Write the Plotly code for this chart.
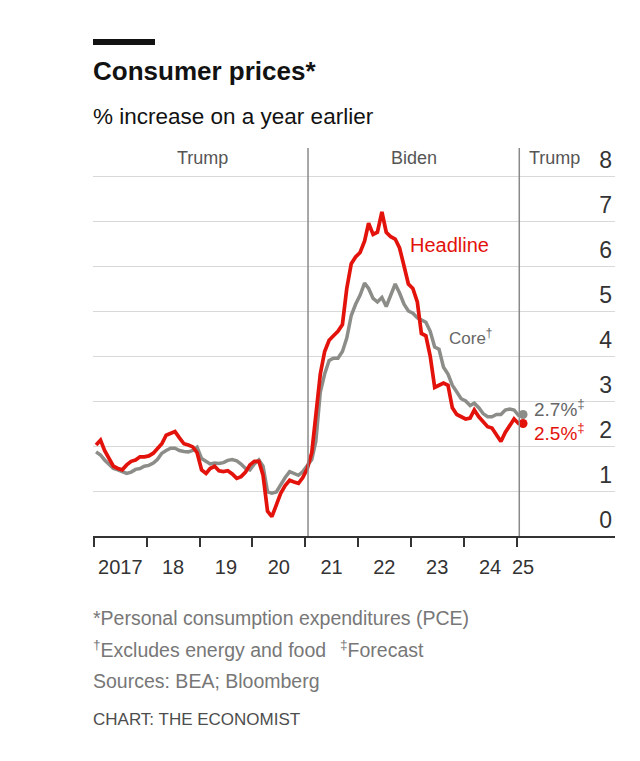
import plotly.graph_objects as go
import pandas as pd

# ---------------- data ----------------
headline = [
    2.02, 2.13, 1.90, 1.72, 1.55, 1.50, 1.47, 1.58, 1.66, 1.69, 1.76, 1.76,   # 2017
    1.78, 1.84, 1.93, 2.05, 2.24, 2.28, 2.32, 2.18, 2.05, 2.02, 1.98, 1.85,   # 2018
    1.47, 1.39, 1.50, 1.55, 1.45, 1.43, 1.45, 1.38, 1.28, 1.32, 1.42, 1.58,   # 2019
    1.66, 1.66, 1.35, 0.55, 0.43, 0.69, 0.95, 1.12, 1.24, 1.20, 1.17, 1.30,   # 2020
    1.50, 1.85, 2.70, 3.60, 4.10, 4.35, 4.45, 4.55, 4.70, 5.50, 6.05, 6.20,   # 2021
    6.30, 6.55, 6.95, 6.70, 6.75, 7.20, 6.75, 6.65, 6.60, 6.40, 6.00, 5.60,   # 2022
    5.50, 5.20, 4.50, 4.45, 4.00, 3.30, 3.35, 3.40, 3.35, 2.85, 2.70, 2.65,   # 2023
    2.60, 2.62, 2.80, 2.65, 2.55, 2.43, 2.40, 2.25, 2.10, 2.30, 2.45, 2.60,   # 2024
    2.50,                                                                      # 2025 Jan
]
core = [
    1.87, 1.80, 1.69, 1.60, 1.50, 1.47, 1.42, 1.39, 1.42, 1.48, 1.50, 1.55,
    1.57, 1.62, 1.70, 1.84, 1.90, 1.95, 1.95, 1.90, 1.88, 1.87, 1.90, 1.97,
    1.72, 1.65, 1.60, 1.62, 1.61, 1.63, 1.68, 1.70, 1.67, 1.60, 1.50, 1.47,
    1.60, 1.69, 1.55, 0.98, 0.95, 0.98, 1.15, 1.30, 1.43, 1.38, 1.35, 1.43,
    1.55, 1.70, 2.10, 3.20, 3.60, 3.90, 3.95, 3.95, 4.10, 4.40, 4.90, 5.15,
    5.35, 5.62, 5.50, 5.28, 5.20, 5.30, 5.10, 5.35, 5.60, 5.40, 5.15, 5.00,
    4.95, 4.85, 4.80, 4.75, 4.55, 4.20, 4.15, 3.75, 3.60, 3.35, 3.20, 3.05,
    3.00, 2.90, 2.95, 2.85, 2.72, 2.65, 2.65, 2.70, 2.70, 2.80, 2.82, 2.80,
    2.68,
]
months = list(pd.date_range("2017-01-01", "2025-01-01", freq="MS") + pd.Timedelta(days=14))

forecast_date = pd.Timestamp("2025-02-15")
headline_fc = 2.5
core_fc = 2.7

year_starts = [f"{y}-01-01" for y in range(2017, 2026)]
year_label_pos = [f"{y}-07-02" for y in range(2017, 2025)] + ["2025-02-15"]
year_labels = ["2017", "18", "19", "20", "21", "22", "23", "24", "25"]

y_ticks = [0, 1, 2, 3, 4, 5, 6, 7, 8]

era_lines = ["2021-01-20", "2025-01-20"]
era_names = ["Trump", "Biden", "Trump"]
era_label_x = ["2019-01-19", "2023-01-20", "2025-01-20"]

RED = "#E3120B"
GREY = "#8C8C88"
REG = "Liberation Sans, Arial, sans-serif"

# ---------------- figure ----------------
fig = go.Figure()
fig.add_trace(go.Scatter(x=months + [forecast_date], y=core + [core_fc], mode="lines",
                         line=dict(color=GREY, width=3.5), hoverinfo="skip"))
fig.add_trace(go.Scatter(x=months + [forecast_date], y=headline + [headline_fc], mode="lines",
                         line=dict(color=RED, width=3.7), hoverinfo="skip"))
fig.add_trace(go.Scatter(x=[forecast_date], y=[core_fc], mode="markers",
                         marker=dict(color=GREY, size=9), hoverinfo="skip"))
fig.add_trace(go.Scatter(x=[forecast_date], y=[headline_fc], mode="markers",
                         marker=dict(color=RED, size=9), hoverinfo="skip"))

W, H = 640, 761
L, R, T, B = 93, 25, 140, 225
pw, ph = W - L - R, H - T - B


def px(xpix):
    return (xpix - L) / pw


def py(ypix):
    return (H - B - ypix) / ph


fig.update_layout(
    width=W, height=H,
    margin=dict(l=L, r=R, t=T, b=B, pad=0),
    paper_bgcolor="white", plot_bgcolor="white",
    showlegend=False,
    xaxis=dict(
        type="date",
        range=["2016-12-25", "2026-11-13"],
        tickmode="array", tickvals=year_label_pos, ticktext=year_labels,
        ticks="outside", ticklen=12, tickcolor="rgba(0,0,0,0)",
        tickfont=dict(family=REG, size=20, color="#333333"),
        minor=dict(tickmode="array", tickvals=year_starts, ticks="outside",
                   ticklen=9, tickwidth=1.5, tickcolor="#333333", showgrid=False),
        showline=True, linecolor="#333333", linewidth=1.5,
        showgrid=False, zeroline=False,
    ),
    yaxis=dict(
        range=[0, (H - B - T) / 45.0],
        side="right",
        tickmode="array", tickvals=y_ticks,
        ticklabelposition="inside top",
        ticks="",
        tickfont=dict(family=REG, size=23, color="#333333"),
        showgrid=True, gridcolor="#D9D9D9", gridwidth=1.2,
        zeroline=False, showline=False,
    ),
)

shapes = []
for d in era_lines:
    shapes.append(dict(type="line", xref="x", yref="y", x0=d, x1=d, y0=0, y1=8.62,
                       line=dict(color="#8A8A8A", width=1.5)))
# black top bar
shapes.append(dict(type="rect", xref="paper", yref="paper",
                   x0=px(93), x1=px(155), y0=py(45), y1=py(39),
                   fillcolor="#121212", line=dict(width=0)))
fig.update_layout(shapes=shapes)

ann = []
# era labels
for i, (name, xd) in enumerate(zip(era_names, era_label_x)):
    ann.append(dict(x=xd, y=8.4, xref="x", yref="y", text=name, showarrow=False,
                    xanchor="center" if i < 2 else "left", xshift=0 if i < 2 else 8,
                    yanchor="middle",
                    font=dict(family=REG, size=18, color="#555555")))
# series labels
ann.append(dict(x="2022-12-15", y=6.47, xref="x", yref="y", text="Headline", showarrow=False,
                xanchor="left", yanchor="middle", font=dict(family=REG, size=20, color=RED)))
ann.append(dict(x="2023-09-05", y=4.43, xref="x", yref="y", text="Core<sup>†</sup>", showarrow=False,
                xanchor="left", yanchor="middle", font=dict(family=REG, size=17, color="#666666")))
ann.append(dict(x=forecast_date, y=2.84, xref="x", yref="y", text="2.7%<sup>‡</sup>", showarrow=False,
                xanchor="left", yanchor="middle", xshift=9, font=dict(family=REG, size=19, color="#666666")))
ann.append(dict(x=forecast_date, y=2.32, xref="x", yref="y", text="2.5%<sup>‡</sup>", showarrow=False,
                xanchor="left", yanchor="middle", xshift=9, font=dict(family=REG, size=19, color=RED)))


# title, subtitle, footnotes
def txt(text, xpix, ypix, size, color):
    return dict(x=px(xpix), y=py(ypix), xref="paper", yref="paper", text=text, showarrow=False,
                xanchor="left", yanchor="middle", font=dict(family=REG, size=size, color=color))


ann.append(txt("<b>Consumer prices*</b>", 91, 71, 26, "#121212"))
ann.append(txt("% increase on a year earlier", 91, 116, 22.5, "#121212"))
ann.append(txt("*Personal consumption expenditures (PCE)", 91, 618, 19.5, "#777777"))
ann.append(txt("<sup>†</sup>Excludes energy and food", 91, 649, 19.5, "#777777"))
ann.append(txt("<sup>‡</sup>Forecast", 338, 649, 19.5, "#777777"))
ann.append(txt("Sources: BEA; Bloomberg", 91, 681, 19.5, "#777777"))
ann.append(txt("CHART: THE ECONOMIST", 91, 719, 17, "#4D4D4D"))
fig.update_layout(annotations=ann)

fig.write_html("out.html")
